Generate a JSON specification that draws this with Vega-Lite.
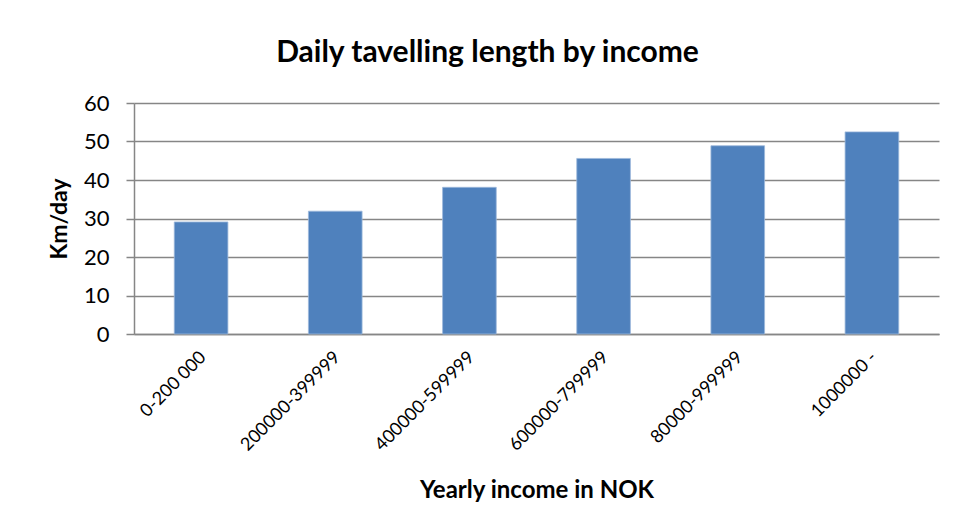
{
  "$schema": "https://vega.github.io/schema/vega-lite/v6.json",
  "autosize": "none",
  "width": 805,
  "height": 231,
  "padding": {"left": 134, "top": 103, "right": 16, "bottom": 194},
  "background": "white",
  "title": {
    "text": "Daily tavelling length by income",
    "font": "Lato",
    "fontSize": 30,
    "fontWeight": "bold",
    "color": "#000000",
    "anchor": "middle",
    "dx": -49,
    "offset": 24
  },
  "data": {
    "values": [
      {"income": "0-200 000", "km": 29.1},
      {"income": "200000-399999", "km": 31.9},
      {"income": "400000-599999", "km": 38.1},
      {"income": "600000-799999", "km": 45.6},
      {"income": "80000-999999", "km": 48.9},
      {"income": "1000000 -", "km": 52.5}
    ]
  },
  "mark": {"type": "bar", "color": "#4F81BD", "stroke": "#9DB9DC", "strokeWidth": 0.8},
  "encoding": {
    "x": {
      "field": "income",
      "type": "nominal",
      "sort": null,
      "scale": {"paddingInner": 0.6, "paddingOuter": 0.3},
      "axis": {
        "title": "Yearly income in NOK",
        "titleFont": "Lato",
        "titleFontSize": 24,
        "titleFontWeight": "bold",
        "titleColor": "#000000",
        "titlePadding": 24,
        "labelAngle": -45,
        "labelFont": "Lato",
        "labelFontSize": 18,
        "labelColor": "#000000",
        "labelPadding": 14,
        "labelOffset": -4,
        "ticks": false,
        "domainColor": "#868686",
        "domainWidth": 1.5
      }
    },
    "y": {
      "field": "km",
      "type": "quantitative",
      "scale": {"domain": [0, 60]},
      "axis": {
        "title": "Km/day",
        "titleFont": "Lato",
        "titleFontSize": 23,
        "titleFontWeight": "bold",
        "titleColor": "#000000",
        "titlePadding": 12,
        "values": [0, 10, 20, 30, 40, 50, 60],
        "labelFont": "Lato",
        "labelFontSize": 22,
        "labelColor": "#000000",
        "labelPadding": 17,
        "tickSize": 8,
        "tickColor": "#868686",
        "tickWidth": 1.5,
        "domainColor": "#868686",
        "domainWidth": 1.5,
        "grid": true,
        "gridColor": "#868686",
        "gridWidth": 1.5
      }
    }
  },
  "config": {
    "view": {"stroke": null}
  }
}
